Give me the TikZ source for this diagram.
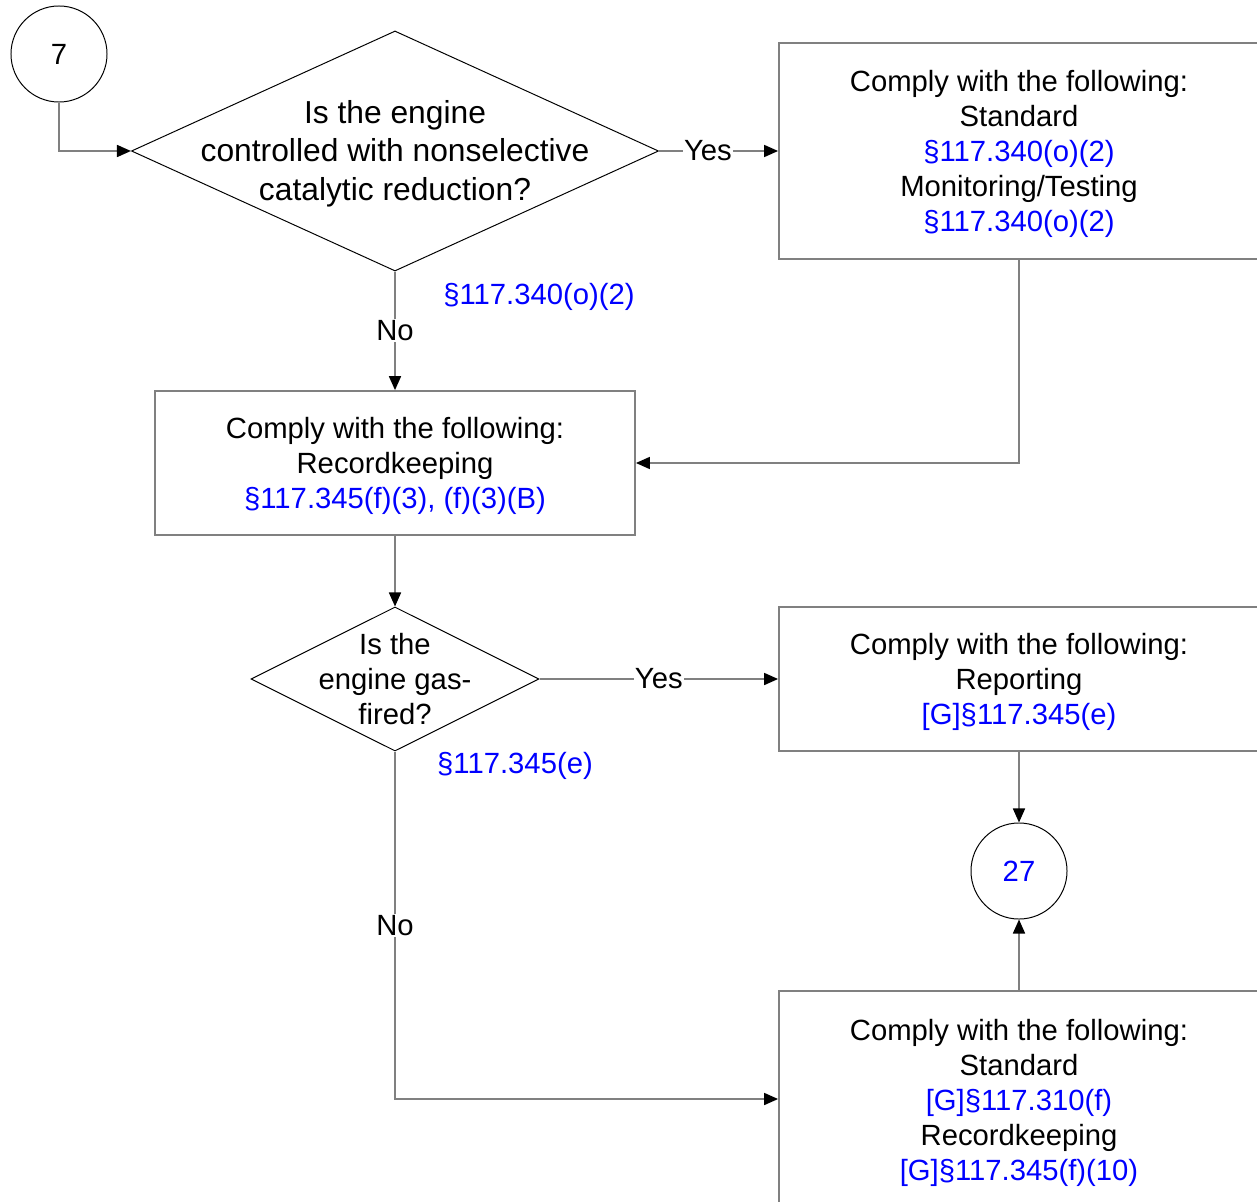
\documentclass[tikz,border=0pt]{standalone}
\usepackage{fontspec}
\setmainfont{Liberation Sans}
\usetikzlibrary{shapes.geometric,arrows.meta}
\definecolor{refblue}{RGB}{0,0,255}
\definecolor{linegray}{RGB}{128,128,128}
\newcommand{\regref}[1]{\textcolor{refblue}{#1}}
\tikzset{
  box/.style={draw=linegray, line width=1.2pt, minimum width=12cm, inner sep=0pt},
  boxtext/.style={align=center, yshift=-0.065cm},
  decision/.style={draw, line width=0.7pt, shape=diamond, inner sep=0pt},
  connector/.style={draw, circle, line width=0.7pt, minimum size=2.4cm, inner sep=0pt},
  flow/.style={draw=linegray, line width=1.2pt, -{Triangle[length=0.35cm, width=0.3cm, color=black]}},
  lbl/.style={fill=white, inner sep=1pt}
}
\begin{document}
\begin{tikzpicture}[x=0.025cm, y=-0.025cm, font=\fontsize{20.8}{24.9}\selectfont]
 \useasboundingbox (0,0) rectangle (1257,1202);
 \node [connector] (c7) at (59,54) {7};
 \node [decision, minimum width=13.175cm, minimum height=6cm,
   label={[boxtext, font=\fontsize{22.6}{27.4}\selectfont]center:Is the engine\\controlled with nonselective\\catalytic reduction?}] (q1) at (395,151) {};
 \node [box, minimum height=5.4cm,
   label={[boxtext]center:Comply with the following:\\Standard\\\regref{§117.340(o)(2)}\\Monitoring/Testing\\\regref{§117.340(o)(2)}}] (b1) at (1019,151) {};
 \node [refblue] (r1) at (539,296.5) {§117.340(o)(2)};
 \node [box, minimum height=3.6cm,
   label={[boxtext]center:Comply with the following:\\Recordkeeping\\\regref{§117.345(f)(3), (f)(3)(B)}}] (b2) at (395,463) {};
 \node [decision, minimum width=7.2cm, minimum height=3.6cm,
   label={[align=center]center:Is the\\engine gas-\\fired?}] (q2) at (395,679) {};
 \node [box, minimum height=3.6cm,
   label={[boxtext]center:Comply with the following:\\Reporting\\\regref{[G]§117.345(e)}}] (b3) at (1019,679) {};
 \node [refblue] (r2) at (515,765.5) {§117.345(e)};
 \node [connector, text=refblue] (c27) at (1019,871) {27};
 \node [box, minimum height=5.4cm,
   label={[boxtext, yshift=-0.03cm]center:Comply with the following:\\Standard\\\regref{[G]§117.310(f)}\\Recordkeeping\\\regref{[G]§117.345(f)(10)}}] (b4) at (1019,1099) {};
 \draw [flow] (c7.south) |- (q1.west);
 \draw [flow] (q1.east) -- (b1.west) node [lbl, pos=0.41] {Yes};
 \draw [flow] (q1.south) -- (b2.north) node [lbl, midway] {No};
 \draw [flow] (b1.south) |- (b2.east);
 \draw [flow] (b2.south) -- (q2.north);
 \draw [flow] (q2.east) -- (b3.west) node [lbl, midway] {Yes};
 \draw [flow] (q2.south) |- (b4.west) node [lbl, pos=0.25] {No};
 \draw [flow] (b3.south) -- (c27.north);
 \draw [flow] (b4.north) -- (c27.south);
\end{tikzpicture}
\end{document}
